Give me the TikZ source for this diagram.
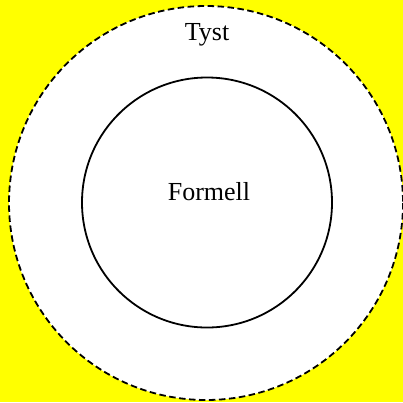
\documentclass[tikz,border=0pt]{standalone}
\usepackage{fontspec}
\setmainfont{Liberation Serif}
\definecolor{bgyellow}{RGB}{255,255,0}
\begin{document}
\begin{tikzpicture}[x=1pt,y=-1pt,
  lbl/.style={font=\fontsize{26}{31}\selectfont, inner sep=0pt},
  outerring/.style={draw=black, line width=1.8pt, dash pattern=on 6.5pt off 3.5pt, fill=white},
  innerring/.style={draw=black, line width=1.8pt}]
\fill[bgyellow] (0,0) rectangle (403,402);
\useasboundingbox (0,0) rectangle (403,402);
\draw[outerring] (206,203) circle (197);
\draw[innerring] (207,202.5) circle (125);
\node[lbl] (tyst) at (207,35) {Tyst};
\node[lbl] (formell) at (209,192) {Formell};
\end{tikzpicture}
\end{document}
